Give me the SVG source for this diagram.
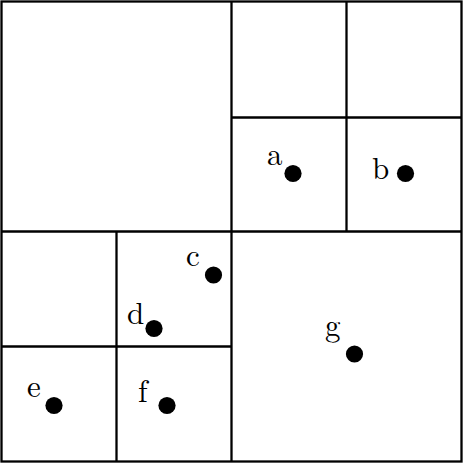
<svg xmlns="http://www.w3.org/2000/svg" width="463" height="463" viewBox="0 0 463 463">
<style>
.ln{stroke:#000;stroke-width:2.3;fill:none}
.pt{fill:#000}
.lb{font-family:"Latin Modern Roman","Liberation Serif","DejaVu Serif",serif;font-size:31px;fill:#000}
</style>
<rect x="0" y="0" width="463" height="463" fill="#fff"/>
<g id="grid">
<rect class="ln" x="1.5" y="1.5" width="460" height="460"/>
<line class="ln" x1="231.5" y1="1.5" x2="231.5" y2="461.5"/>
<line class="ln" x1="1.5" y1="231.5" x2="461.5" y2="231.5"/>
<line class="ln" x1="346.5" y1="1.5" x2="346.5" y2="231.5"/>
<line class="ln" x1="231.5" y1="117.5" x2="461.5" y2="117.5"/>
<line class="ln" x1="116.5" y1="231.5" x2="116.5" y2="461.5"/>
<line class="ln" x1="1.5" y1="346.5" x2="231.5" y2="346.5"/>
</g>
<g id="a"><circle class="pt" cx="293" cy="173.5" r="8.6"/><text class="lb" x="267" y="165">a</text></g>
<g id="b"><circle class="pt" cx="405.5" cy="173.5" r="8.6"/><text class="lb" x="372" y="179">b</text></g>
<g id="c"><circle class="pt" cx="213.5" cy="275" r="8.6"/><text class="lb" x="186" y="266">c</text></g>
<g id="d"><circle class="pt" cx="154" cy="328.5" r="8.6"/><text class="lb" x="127" y="324">d</text></g>
<g id="e"><circle class="pt" cx="54" cy="405.5" r="8.6"/><text class="lb" x="27" y="397">e</text></g>
<g id="f"><circle class="pt" cx="167" cy="405.5" r="8.6"/><text class="lb" x="138" y="402">f</text></g>
<g id="g"><circle class="pt" cx="354.5" cy="354" r="8.6"/><text class="lb" x="325" y="336">g</text></g>
</svg>
